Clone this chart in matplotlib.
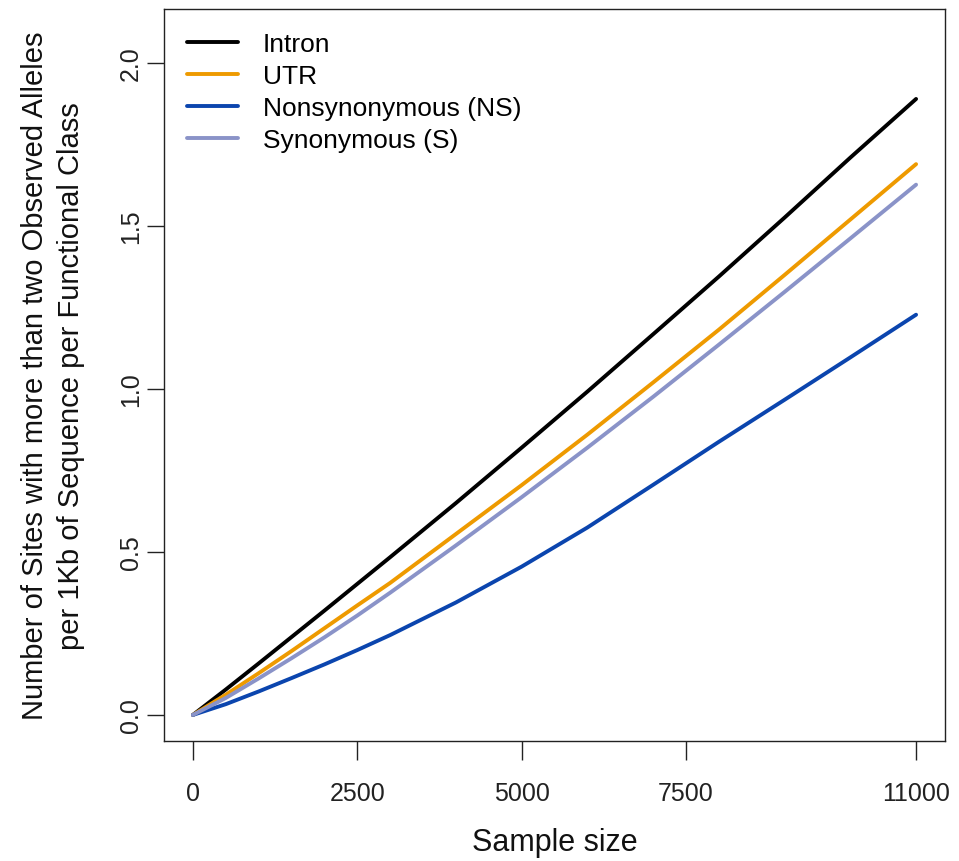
import numpy as np
import matplotlib
matplotlib.use("Agg")
import matplotlib.pyplot as plt

plt.rcParams['font.family'] = ['Liberation Sans', 'DejaVu Sans']

sample_size = [0, 500, 1000, 1500, 2000, 2500, 3000, 4000, 5000,
               6000, 7000, 8000, 9000, 10000, 11000]

intron = [0.0, 0.078, 0.158, 0.239, 0.320, 0.402, 0.484, 0.650, 0.820,
          0.992, 1.168, 1.345, 1.526, 1.710, 1.890]
utr = [0.0, 0.062, 0.128, 0.196, 0.266, 0.336, 0.405, 0.555, 0.705,
       0.860, 1.020, 1.182, 1.350, 1.520, 1.690]
nonsyn = [0.0, 0.033, 0.072, 0.113, 0.155, 0.199, 0.245, 0.345, 0.455,
          0.575, 0.706, 0.838, 0.967, 1.097, 1.228]
syn = [0.0, 0.052, 0.112, 0.174, 0.238, 0.305, 0.375, 0.520, 0.668,
       0.820, 0.976, 1.136, 1.298, 1.462, 1.627]

labels = ["Intron", "UTR", "Nonsynonymous (NS)", "Synonymous (S)"]
colors = ["#000000", "#EE9A00", "#0B45AE", "#8A93C8"]

fig = plt.figure(figsize=(9.59, 8.62), dpi=100)
W, H = 959, 862
ax = fig.add_axes([164 / W, (H - 742) / H, (945 - 164) / W, (742 - 10) / H])

for ys, lab, col in zip([intron, utr, nonsyn, syn], labels, colors):
    ax.plot(sample_size, ys, color=col, lw=2.8, label=lab, solid_capstyle='round')

ax.set_xlim(-440, 11440)
ax.set_ylim(-0.08, 2.166)
ax.set_xticks([0, 2500, 5000, 7500, 11000])
ax.set_yticks([0.0, 0.5, 1.0, 1.5, 2.0])
ax.set_yticklabels(["0.0", "0.5", "1.0", "1.5", "2.0"])

# R-style axes: ticks outside the box
ax.tick_params(axis='x', length=13.7, width=1, labelsize=18, pad=15, colors='#222222')
ax.tick_params(axis='y', length=12, width=1, labelsize=18, pad=3, labelrotation=90, colors='#222222')
for lab in ax.get_yticklabels():
    lab.set_va('center')
for sp in ax.spines.values():
    sp.set_linewidth(1.0)
    sp.set_color('#222222')

fig.text(0.5 * (164 + 945) / W, (H - 843) / H, "Sample size", fontsize=22,
         ha='center', va='center', color='#111111')
fig.text(53 / W, 1 - 376 / H,
         "Number of Sites with more than two Observed Alleles\nper 1Kb of Sequence per Functional Class",
         fontsize=21, rotation=90, ha='center', va='center', linespacing=1.35, color='#111111')

ax.legend(loc='upper left', bbox_to_anchor=(0.0295, 0.968), frameon=False, fontsize=19,
          handlelength=1.93, handletextpad=0.95, labelspacing=0.3, borderpad=0, borderaxespad=0)

fig.savefig("out.png", dpi=100)
